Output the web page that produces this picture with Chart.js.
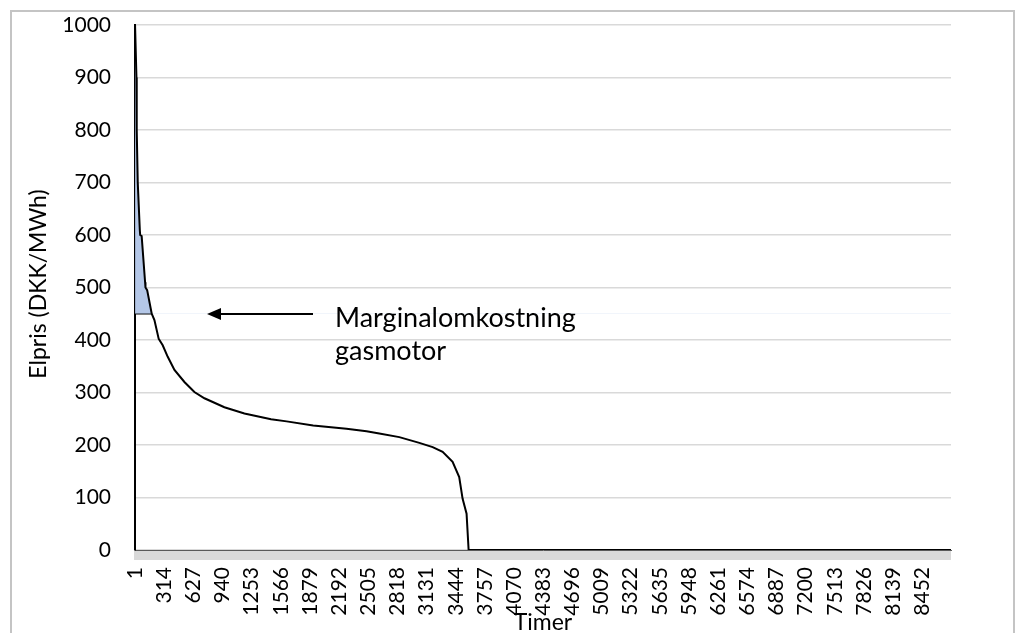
<!DOCTYPE html>
<html>
<head>
<meta charset="utf-8">
<script src="https://cdn.jsdelivr.net/npm/chart.js@4.4.1/dist/chart.umd.min.js"></script>
<style>
  body { margin: 0; background: #fff; }
  #wrap { position: relative; width: 1021px; height: 633px; overflow: hidden; }
  #frame { position: absolute; left: 10px; top: 10px; width: 1001px; height: 700px;
           border: 2px solid #c4c4c4; pointer-events: none; }
</style>
</head>
<body>
<div id="wrap">
  <canvas id="priceChart" width="1021" height="633"></canvas>
  <div id="frame"></div>
</div>
<script>
// Price duration curve (hour rank, DKK/MWh)
const hours  = [1, 16, 19, 30, 52, 56, 72, 109, 113, 131, 180, 209, 255, 263, 298, 352, 424, 531, 638, 746, 960,
                1175, 1461, 1628, 1913, 2271, 2486, 2623, 2838, 3053, 3196, 3303, 3410, 3481, 3517, 3560, 3582, 8760];
const prices = [1000, 900, 800, 700, 610, 600, 598, 510, 500, 495, 450, 438, 402, 400, 390, 368, 343, 320, 301, 289, 272,
                260, 249, 245, 237, 231, 226, 222, 215, 204, 196, 187, 168, 139, 98, 69, 0, 0];

// gas engine marginal cost and the hours where the curve is above it
const gasCost = 450;
const gasHours = [1, 180];

const xTicks = [1, 314, 627, 940, 1253, 1566, 1879, 2192, 2505, 2818, 3131, 3444, 3757, 4070,
                4383, 4696, 5009, 5322, 5635, 5948, 6261, 6574, 6887, 7200, 7513, 7826, 8139, 8452];

const FONT = 'Lato';

// grey band under the x axis, plus arrow, note and y title
const extras = {
    id: 'extras',
    beforeDatasetsDraw(chart) {
        const ctx = chart.ctx, a = chart.chartArea;
        ctx.save();
        ctx.fillStyle = '#d9d9d9';
        ctx.fillRect(a.left - 1, a.bottom + 1, a.right - a.left + 1, 9);
        ctx.restore();
    },
    afterDraw(chart) {
        const ctx = chart.ctx;
        ctx.save();
        // arrow
        ctx.strokeStyle = '#000';
        ctx.lineWidth = 2;
        ctx.beginPath();
        ctx.moveTo(313, 314);
        ctx.lineTo(216, 314);
        ctx.stroke();
        ctx.fillStyle = '#000';
        ctx.beginPath();
        ctx.moveTo(207, 314);
        ctx.lineTo(221, 308);
        ctx.lineTo(221, 320);
        ctx.closePath();
        ctx.fill();
        // note
        ctx.font = '27px ' + FONT;
        ctx.textAlign = 'left';
        ctx.textBaseline = 'alphabetic';
        ctx.fillText('Marginalomkostning', 335, 327);
        ctx.fillText('gasmotor', 335, 360);
        // y title
        ctx.font = '23px ' + FONT;
        ctx.translate(39, 284);
        ctx.rotate(-Math.PI / 2);
        ctx.textAlign = 'center';
        ctx.textBaseline = 'middle';
        ctx.fillText('Elpris (DKK/MWh)', 0, 0);
        ctx.restore();
    }
};

const ctx = document.getElementById('priceChart').getContext('2d');
const priceChart = new Chart(ctx, {
    type: 'line',
    data: {
        datasets: [{
            label: 'Elpris',
            data: hours.map((h, i) => ({ x: h, y: prices[i] })),
            borderColor: '#000',
            borderWidth: 2,
            pointRadius: 0,
            tension: 0,
            fill: { target: { value: gasCost }, above: '#b4c7e7', below: 'rgba(0,0,0,0)' }
        }, {
            label: 'Gasmotor',
            data: gasHours.map(h => ({ x: h, y: gasCost })),
            borderColor: '#000',
            borderWidth: 1.5,
            pointRadius: 0,
            fill: false
        }]
    },
    options: {
        responsive: false,
        animation: false,
        layout: { padding: { top: 25, right: 70, left: 0, bottom: 0 } },
        plugins: {
            legend: { display: false },
            tooltip: { enabled: false }
        },
        scales: {
            x: {
                type: 'linear',
                min: 0.5,
                max: 8760.5,
                afterBuildTicks: scale => { scale.ticks = xTicks.map(v => ({ value: v })); },
                afterFit: scale => { scale.height = 83; scale.paddingTop = 0; scale.paddingBottom = 0; },
                grid: { display: false, drawTicks: false },
                border: { color: '#595959', width: 1 },
                ticks: {
                    minRotation: 90, maxRotation: 90, autoSkip: false, padding: 17,
                    color: '#000', font: { family: FONT, size: 21 },
                    callback: v => String(v)
                },
                title: {
                    display: true, text: 'Timer', color: '#000',
                    font: { family: FONT, size: 23 }, padding: { top: 0, bottom: -3 }
                }
            },
            y: {
                min: 0,
                max: 1000,
                afterFit: scale => { scale.width = 135; scale.paddingTop = 0; scale.paddingBottom = 0; },
                grid: { color: '#d9d9d9', lineWidth: 1.5, drawTicks: false },
                border: { color: '#000', width: 2 },
                ticks: {
                    stepSize: 100, padding: 24, color: '#000', font: { family: FONT, size: 21 },
                    callback: v => String(v)
                }
            }
        }
    },
    plugins: [extras]
});
</script>
</body>
</html>
